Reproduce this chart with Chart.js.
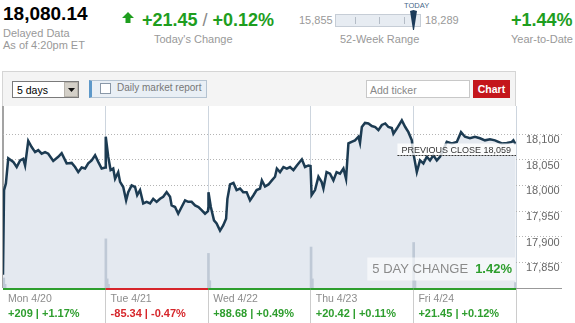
<!DOCTYPE html>
<html>
<head>
<meta charset="utf-8">
<script src="https://cdn.jsdelivr.net/npm/chart.js@4"></script>
<style>
body{margin:0;width:575px;height:323px;overflow:hidden;background:#fff;position:relative;font-family:Arial,"Liberation Sans",sans-serif}
.a{position:absolute;line-height:1;white-space:nowrap}
.gr{color:#999;font-size:11px}
.big{font-weight:bold;font-size:18px;color:#1e9e1e}
#c{position:absolute;left:0;top:100px}
</style>
</head>
<body>
<div class="a" style="left:3px;top:4px;font-weight:bold;font-size:19px;color:#000">18,080.14</div>
<div class="a gr" style="left:3px;top:28px">Delayed Data</div>
<div class="a gr" style="left:3px;top:40px">As of 4:20pm ET</div>

<svg class="a" style="left:122px;top:12px" width="12" height="12"><polygon points="6,0 12,6 8.5,6 8.5,11 3.5,11 3.5,6 0,6" fill="#1e9e1e"/></svg>
<div class="a big" style="left:142px;top:11px">+21.45 <span style="color:#888;font-weight:normal">/</span> +0.12%</div>
<div class="a gr" style="left:154px;top:34px">Today's Change</div>

<div class="a gr" style="left:299px;top:15px">15,855</div>
<div class="a" style="left:335px;top:14px;width:86px;height:13px;box-sizing:border-box;background:#e7ecf2;border:1px solid #c6cdd6"></div>
<div class="a" style="left:355px;top:17px;width:1px;height:7px;background:#b4bcc6"></div>
<div class="a" style="left:379px;top:17px;width:1px;height:7px;background:#b4bcc6"></div>
<div class="a" style="left:404px;top:17px;width:1px;height:7px;background:#b4bcc6"></div>
<svg class="a" style="left:410px;top:10px" width="7" height="20"><polygon points="0,1 3.5,0 7,1 4,20 3,20" fill="#1c3b5a"/></svg>
<div class="a" style="left:404px;top:2px;font-size:7.5px;color:#46688a">TODAY</div>
<div class="a gr" style="left:425px;top:15px">18,289</div>
<div class="a gr" style="left:340px;top:34px">52-Week Range</div>

<div class="a big" style="left:511px;top:11px">+1.44%</div>
<div class="a gr" style="left:511px;top:34px">Year-to-Date</div>

<div class="a" style="left:2px;top:71px;width:514px;height:35px;box-sizing:border-box;background:#f4f4f4;border:1px solid #d5d5d5;border-bottom:none"></div>
<div class="a" style="left:12px;top:81px;width:67px;height:17px;box-sizing:border-box;background:#fff;border:1px solid #7a7a7a"></div>
<div class="a" style="left:17px;top:85px;font-size:10.5px;color:#000">5 days</div>
<div class="a" style="left:64px;top:82px;width:14px;height:15px;box-sizing:border-box;background:#d4d0c8;border:1px solid #b8b4ac"></div>
<svg class="a" style="left:68px;top:88px" width="7" height="4"><polygon points="0,0 7,0 3.5,4" fill="#111"/></svg>

<div class="a" style="left:89px;top:80px;width:118px;height:18px;box-sizing:border-box;background:#e9eff5;border:1px solid #b5c3d1;border-left:3px solid #5d98c9"></div>
<div class="a" style="left:100px;top:83px;width:11px;height:11px;box-sizing:border-box;background:#fff;border:1px solid #8a98a8"></div>
<div class="a" style="left:117px;top:83px;font-size:10px;color:#777">Daily market report</div>

<div class="a" style="left:366px;top:80px;width:104px;height:18px;box-sizing:border-box;background:#fff;border:1px solid #c8c8c8"></div>
<div class="a" style="left:370px;top:85px;font-size:10.5px;color:#888">Add ticker</div>
<div class="a" style="left:473px;top:80px;width:37px;height:18px;background:#c4161c"></div>
<div class="a" style="left:473px;top:84px;width:37px;text-align:center;font-size:10.5px;font-weight:bold;color:#fff">Chart</div>

<canvas id="c" width="575" height="223"></canvas>
<script>
// minutes after the 9:30 open, and index values, one pair of arrays per day
var monT = [0,4,11,20,39,52,65,77,84,96,109,122,134,147,160,172,191,210,223,242,261,274,286,299,312,324,337,350,362,375,389];
var monV = [17826,17991,18004,18053,18046,18036,18049,18052,18039,18087,18075,18065,18069,18062,18065,18062,18048,18056,18063,18043,18044,18036,18026,18035,18033,18043,18049,18059,18046,18033,18035];
var tueT = [0,1,10,19,29,36,48,55,67,78,86,99,112,120,131,143,156,169,181,194,207,219,232,245,251,264,276,289,302,314,327,340,353,365,378,389];
var tueV = [18040,18095,18056,18030,18033,18013,18026,18007,17997,17971,17987,18000,17997,17981,17991,17965,17968,17965,17974,17968,17974,17978,17987,17978,17961,17958,17945,17958,17971,17968,17968,17961,17958,17952,17945,17950];
var wedT = [0,1,10,22,32,45,57,68,73,83,96,108,121,133,146,159,172,184,197,204,216,229,242,254,261,273,286,299,311,324,337,356,368,381,389];
var wedV = [17955,17987,17958,17932,17926,17912,17922,17935,17974,18002,18005,17991,17994,17987,17987,17971,17981,17991,17994,18010,17998,18002,18010,18017,18033,18026,18036,18033,18036,18030,18039,18051,18036,18039,18038];
var thuT = [0,3,16,29,41,48,60,73,86,98,111,124,134,143,155,168,181,187,194,206,219,232,245,257,270,283,295,308,314,327,346,359,371,384,389];
var thuV = [18038,17981,17991,18017,18007,17994,18026,18023,18010,18026,18023,18033,18013,18082,18085,18088,18095,18083,18114,18122,18121,18116,18114,18108,18118,18121,18114,18112,18101,18111,18127,18114,18104,18088,18062];
var friT = [0,2,13,25,38,51,63,76,89,101,114,127,146,165,181,196,215,234,253,272,291,310,323,336,355,374,380,389];
var friV = [18059,18060,18026,18049,18043,18056,18049,18059,18049,18056,18070,18085,18082,18085,18104,18095,18092,18095,18092,18088,18090,18088,18085,18082,18083,18085,18088,18080];

// volume spikes (minutes from monday open, relative size)
var volT = [3,8,391,396,401,781,786,1171,1176,1561,1566,1948];
var vol = [5.5,2,27,5,2,19,4,22.5,5,25,4,3];

var days = ['Mon 4/20','Tue 4/21','Wed 4/22','Thu 4/23','Fri 4/24'];
var dayChg = [209,-85.34,88.68,20.42,21.45];
var dayPct = [1.17,-0.47,0.49,0.11,0.12];
var yTicks = [17850,17900,17950,18000,18050,18100];
var prevClose = 18059;
var fiveDay = '1.42%';

var DAY = 390;
var green = '#2e9e2e', red = '#d6262b';

var series = [[monT,monV],[tueT,tueV],[wedT,wedV],[thuT,thuV],[friT,friV]];
var pts = [];
series.forEach(function(s, d){
  for (var i = 0; i < s[0].length; i++) pts.push({x: d*DAY + s[0][i], y: s[1][i]});
});
var vpts = volT.map(function(t, i){ return {x: t, y: vol[i]}; });

var marks = {
  id: 'marks',
  afterDatasetsDraw: function(chart){
    var ctx = chart.ctx, a = chart.chartArea, x = chart.scales.x, y = chart.scales.y;
    ctx.save();
    // previous close
    var py = Math.round(y.getPixelForValue(prevClose)) + 0.5;
    ctx.font = '9px Arial';
    var pText = 'PREVIOUS CLOSE ' + prevClose.toLocaleString('en-US');
    var tw = ctx.measureText(pText).width;
    var bx = a.right - tw - 9;
    ctx.fillStyle = 'rgba(255,255,255,0.8)';
    ctx.fillRect(bx, py - 12, a.right - bx, 12);
    ctx.strokeStyle = '#333';
    ctx.lineWidth = 1;
    ctx.setLineDash([2,1]);
    ctx.beginPath(); ctx.moveTo(bx, py); ctx.lineTo(a.right, py); ctx.stroke();
    ctx.setLineDash([]);
    ctx.fillStyle = '#333';
    ctx.textAlign = 'right';
    ctx.fillText(pText, a.right - 5, py - 3);

    // 5 day change
    ctx.font = 'bold 13px Arial';
    var w1 = ctx.measureText(fiveDay).width;
    ctx.font = '13px Arial';
    var lab = '5 DAY CHANGE';
    var w2 = ctx.measureText(lab).width;
    var r = a.right - 4;
    var left = r - w1 - 7 - w2;
    ctx.fillStyle = 'rgba(255,255,255,0.6)';
    ctx.fillRect(left - 5, a.bottom - 30.5, a.right - 1 - (left - 5), 23);
    ctx.fillStyle = '#8a8a8a';
    ctx.textAlign = 'left';
    ctx.fillText(lab, left, a.bottom - 15);
    ctx.font = 'bold 13px Arial';
    ctx.fillStyle = green;
    ctx.fillText(fiveDay, r - w1, a.bottom - 15);

    // day strips and labels
    for (var d = 0; d < days.length; d++){
      var x0 = x.getPixelForValue(d*DAY), x1 = x.getPixelForValue((d+1)*DAY);
      var col = dayChg[d] >= 0 ? green : red;
      ctx.fillStyle = col;
      ctx.fillRect(x0, a.bottom, x1 - x0, 2);
      ctx.fillStyle = '#8c8c8c';
      ctx.font = '10.5px Arial';
      ctx.fillText(days[d], x0 + 5, a.bottom + 13.5);
      var sg = dayChg[d] >= 0 ? '+' : '-';
      var txt = sg + Math.abs(dayChg[d]) + ' | ' + sg + Math.abs(dayPct[d]).toFixed(2) + '%';
      ctx.font = 'bold 11px Arial';
      ctx.fillStyle = col;
      ctx.fillText(txt, x0 + 5, a.bottom + 28.5);
    }
    ctx.fillStyle = '#999';
    ctx.fillRect(a.right, a.bottom, 46, 1);
    ctx.restore();
  }
};

new Chart(document.getElementById('c'), {
  type: 'line',
  data: {
    datasets: [
      {
        type: 'bar',
        data: vpts,
        yAxisID: 'yv',
        backgroundColor: '#bfc9d6',
        barThickness: 2,
        order: 0
      },
      {
        data: pts,
        borderColor: '#1c3b52',
        borderWidth: 2.5,
        pointRadius: 0,
        tension: 0,
        fill: 'start',
        backgroundColor: '#e4e9f0',
        order: 1
      }
    ]
  },
  options: {
    responsive: false,
    animation: false,
    devicePixelRatio: 1,
    layout: { padding: { left: 3, right: 0, top: 6, bottom: 0 } },
    plugins: { legend: { display: false }, tooltip: { enabled: false } },
    scales: {
      x: {
        type: 'linear',
        min: 0,
        max: 5*DAY,
        offset: false,
        afterBuildTicks: function(s){ s.ticks = [0,1,2,3,4,5].map(function(d){ return {value: d*DAY}; }); },
        afterFit: function(s){ s.height = 35; },
        ticks: { display: false },
        border: { display: false },
        grid: {
          offset: false,
          color: function(c){ return c.tick && c.tick.value === 0 ? '#a3a3a3' : '#cdd5de'; },
          lineWidth: function(c){ return c.tick && c.tick.value === 0 ? 2 : 1; },
          tickColor: function(c){ return c.tick && c.tick.value === 0 ? 'rgba(0,0,0,0)' : '#cccccc'; },
          tickLength: 35,
          drawTicks: true
        }
      },
      y: {
        position: 'right',
        min: 17800,
        max: 18155,
        afterBuildTicks: function(s){ s.ticks = yTicks.map(function(v){ return {value: v}; }); },
        afterFit: function(s){ s.width = 59; },
        border: { display: false, dash: [1,2] },
        grid: { color: '#b4b4b4', tickColor: '#b4b4b4', tickLength: 46, tickBorderDash: [1,2] },
        ticks: {
          padding: -36,
          labelOffset: 6,
          color: '#666',
          font: { family: 'Arial', size: 11 },
          callback: function(v){ return v.toLocaleString('en-US'); }
        }
      },
      yv: { display: false, min: 0, max: 100 }
    }
  },
  plugins: [marks]
});
</script>
</body>
</html>
